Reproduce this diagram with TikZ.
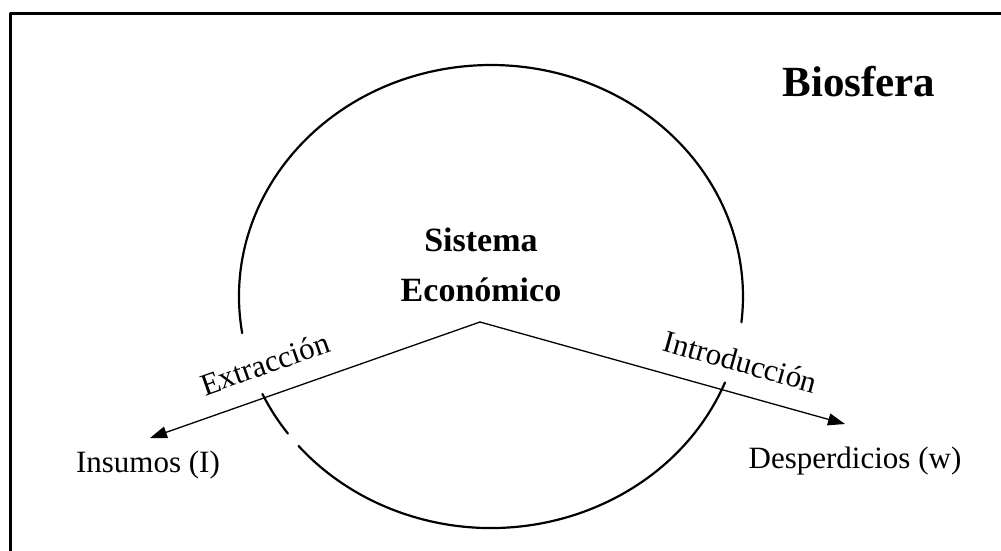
\documentclass[tikz,border=0pt]{standalone}
\usepackage{fontspec}
\setmainfont{Liberation Serif}
\usetikzlibrary{arrows.meta}
\begin{document}
\begin{tikzpicture}[x=1pt,y=-1pt,line join=round,line cap=round,
	font=\fontsize{31}{36}\selectfont,>={Triangle[length=17pt,width=12pt]}]
	\def\rx{252}
	\def\ry{231.5}
	\useasboundingbox (0,0) rectangle (1001,550);
	\clip (0,0) rectangle (1001,550);
	\draw[line width=3pt] (10.5,600)--(10.5,13.5)--(1050,13.5);
	\path (491,296.5)coordinate (C)
	(480,322)coordinate (O)
	(150,438)coordinate (I)
	(845,424)coordinate (W);
	\draw[line width=2.2pt]
	(C)++(21.8:{\rx} and {\ry}) arc (21.8:139.8:{\rx} and {\ry})
	(C)++(143.7:{\rx} and {\ry}) arc (143.7:155.1:{\rx} and {\ry})
	(C)++(170.9:{\rx} and {\ry}) arc (170.9:366.4:{\rx} and {\ry});
	\draw[->,line width=1.3pt] (O)--(I)node[pos=0.62,sloped,above=17pt]{Extracción};
	\draw[->,line width=1.3pt] (O)--(W)node[pos=0.69,sloped,above=17pt]{Introducción};
	\node (ins) at (148,465) {Insumos (I)};
	\node (des) at (855,461) {Desperdicios (w)};
	\node[align=center,font=\bfseries\fontsize{34}{50}\selectfont] (sis) at (481,265) {Sistema\\Económico};
	\node[font=\bfseries\fontsize{43}{50}\selectfont] (bio) at (859,82) {Biosfera};
\end{tikzpicture}
\end{document}
